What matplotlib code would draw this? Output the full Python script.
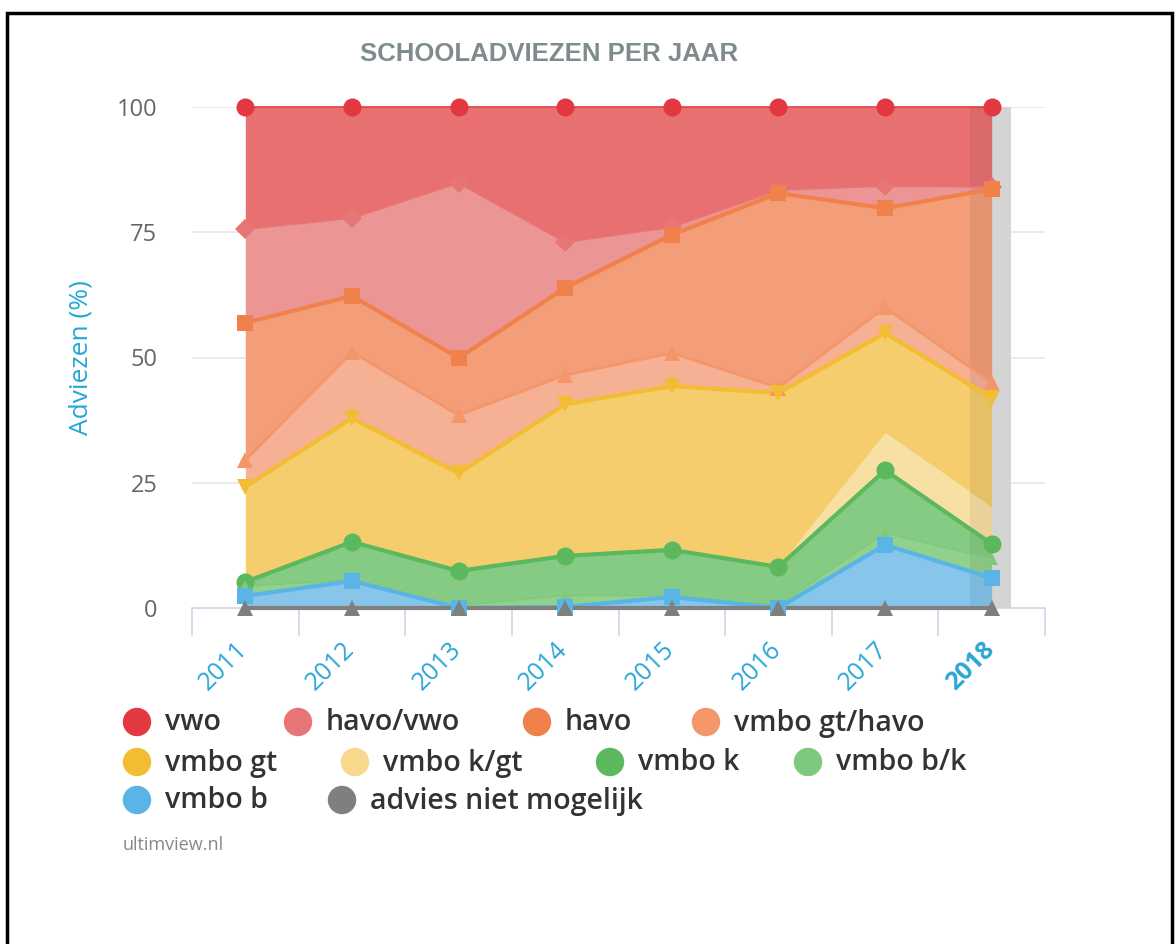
import numpy as np
import matplotlib
matplotlib.use("Agg")
import matplotlib.pyplot as plt
import matplotlib.transforms as mtransforms
from matplotlib.patches import Rectangle, Ellipse

# ------------------------------------------------------------
# Data: cumulative stacked tops (%) per category, bottom to top
# ------------------------------------------------------------
years = [2011, 2012, 2013, 2014, 2015, 2016, 2017, 2018]

advies = [0, 0, 0, 0, 0, 0, 0, 0]
vmbo_b = [2.4, 5.4, 0.0, 0.2, 2.2, 0.0, 12.6, 6.0]
vmbo_bk = [4.4, 5.5, 0.5, 2.5, 2.4, 0.5, 15.0, 9.8]
vmbo_k = [5.2, 13.2, 7.4, 10.4, 11.6, 8.2, 27.5, 12.8]
vmbo_kgt = [5.2, 13.2, 7.4, 10.4, 11.6, 8.2, 35.0, 20.2]
vmbo_gt = [24.2, 37.9, 26.9, 40.7, 44.3, 42.9, 54.9, 41.9]
vmbo_gt_havo = [29.5, 51.1, 38.5, 46.5, 50.9, 44.0, 60.0, 45.0]
havo = [56.9, 62.3, 49.9, 63.9, 74.5, 82.8, 79.8, 83.6]
havo_vwo = [75.6, 77.8, 84.8, 73.0, 76.0, 83.4, 84.2, 84.0]
vwo = [100, 100, 100, 100, 100, 100, 100, 100]

series_names = ["advies niet mogelijk", "vmbo b", "vmbo b/k", "vmbo k", "vmbo k/gt",
                "vmbo gt", "vmbo gt/havo", "havo", "havo/vwo", "vwo"]
series_tops = [advies, vmbo_b, vmbo_bk, vmbo_k, vmbo_kgt,
               vmbo_gt, vmbo_gt_havo, havo, havo_vwo, vwo]
line_colors = ["#7f7f7f", "#5ab4e5", "#7ec97e", "#5cb85c", "#f8d88d",
               "#f2bd33", "#f4956a", "#f0814a", "#e87575", "#e3383f"]
fill_colors = ["#7f7f7f", "#87c6ea", "#92d18c", "#86cb84", "#f8dfa4",
               "#f5cd6c", "#f6b094", "#f39e78", "#ec9595", "#e87070"]
markers = ["^", "s", "^", "o", "", "v", "^", "s", "D", "o"]
line_widths = [3, 3, 1.2, 3, 0, 3, 2, 3, 1.2, 1.2]

# legend layout (pixel positions of marker and label)
legend_items = [
    ("vwo", 137, 722, "#e3383f"), ("havo/vwo", 298, 722, "#e87575"),
    ("havo", 537, 722, "#f0814a"), ("vmbo gt/havo", 706, 722, "#f4956a"),
    ("vmbo gt", 137, 762, "#f2bd33"), ("vmbo k/gt", 355, 762, "#f8d88d"),
    ("vmbo k", 610, 762, "#5cb85c"), ("vmbo b/k", 808, 762, "#7ec97e"),
    ("vmbo b", 137, 800, "#5ab4e5"), ("advies niet mogelijk", 342, 800, "#7f7f7f"),
]

W, H = 1175, 944
fig = plt.figure(figsize=(W / 100, H / 100), dpi=100)
fig.patch.set_facecolor("white")

# outer frame
fig.patches.append(Rectangle((7 / W, -0.01), (1172 - 7) / W, (H - 13) / H + 0.01,
                             transform=fig.transFigure, fill=False,
                             edgecolor="black", linewidth=2.5))

ax = fig.add_axes([192 / W, (H - 608) / H, (1045 - 192) / W, (608 - 107) / H])
ax.set_xlim(2010.5, 2018.5)
ax.set_ylim(0, 100)

# hover band behind 2018
ax.axvspan(2017.8, 2018.18, color="#d4d4d4", zorder=0.5, linewidth=0)

x = np.array(years)
lower = np.zeros(len(years))
for name, top, fc in zip(series_names, series_tops, fill_colors):
    top = np.array(top, dtype=float)
    if name != "advies niet mogelijk":
        ax.fill_between(x, lower, top, color=fc, linewidth=0, zorder=1)
    lower = top

# darker overlay of the hover band on top of the areas
ax.axvspan(2017.8, 2018.0, color="black", alpha=0.06, zorder=1.5, linewidth=0)

# lines and markers, lower series drawn on top (as in the original)
for name, top, lc, mk, lw in reversed(list(zip(series_names, series_tops, line_colors,
                                               markers, line_widths))):
    if lw > 0:
        ax.plot(x, top, color=lc, linewidth=lw, zorder=3, clip_on=False)
    if mk:
        ms = 13 if mk == "o" else (10 if mk == "D" else 12)
        if name == "vmbo b/k":
            ms = 9
        ax.plot(x, top, linestyle="none", marker=mk, markersize=ms, color=lc,
                markeredgewidth=0, zorder=4, clip_on=False)

# grid and axes
for yv in [25, 50, 75, 100]:
    ax.axhline(yv, color="#e6e6e6", linewidth=1.2, zorder=0.2)
for s in ["top", "right", "left"]:
    ax.spines[s].set_visible(False)
ax.spines["bottom"].set_color("#ccd6eb")
ax.spines["bottom"].set_linewidth(1.2)
ax.spines["bottom"].set_zorder(0.3)

ax.set_yticks([0, 25, 50, 75, 100])
ax.set_yticklabels(["0", "25", "50", "75", "100"], fontsize=17, color="#666666",
                   family="Open Sans")
ax.tick_params(axis="y", length=0, pad=25)

ax.set_xticks(np.arange(2010.5, 2019, 1), minor=False)
ax.set_xticklabels([])
ax.tick_params(axis="x", length=20, width=1.2, color="#ccd6eb", direction="out")
ax.set_xticks(years, minor=True)
ax.set_xticklabels([str(y) for y in years], minor=True)
ax.tick_params(axis="x", which="minor", length=0, pad=21)
shift = mtransforms.ScaledTranslation(-10 / 100, 0, fig.dpi_scale_trans)
for lab, y in zip(ax.get_xticklabels(minor=True), years):
    lab.set_rotation(45)
    lab.set_ha("right")
    lab.set_va("top")
    lab.set_rotation_mode("anchor")
    lab.set_fontsize(18)
    lab.set_color("#2ba6d6")
    lab.set_family("Open Sans")
    lab.set_transform(lab.get_transform() + shift)
    if y == 2018:
        lab.set_fontweight("bold")

ax.set_ylabel("Adviezen (%)", fontsize=19, color="#23a7d8", family="Open Sans")
ax.yaxis.set_label_coords(-0.115, 0.5)

# title
fig.text(549 / W, 1 - 54 / H, "SCHOOLADVIEZEN PER JAAR", ha="center", va="center",
         fontsize=18.5, fontweight="bold", color="#7f8c8d", family="Liberation Sans")

# legend
for label, px, py, col in legend_items:
    fig.patches.append(Ellipse((px / W, 1 - py / H), 27 / W, 27 / H,
                               transform=fig.transFigure, color=col))
    fig.text((px + 28) / W, 1 - (py + 1) / H, label, ha="left", va="center",
             fontsize=20.5, fontweight="semibold", color="#333333", family="Open Sans")

fig.text(123 / W, 1 - 845 / H, "ultimview.nl", ha="left", va="center",
         fontsize=13, color="#888888", family="Open Sans")

fig.savefig("out.png", dpi=100, facecolor="white")
